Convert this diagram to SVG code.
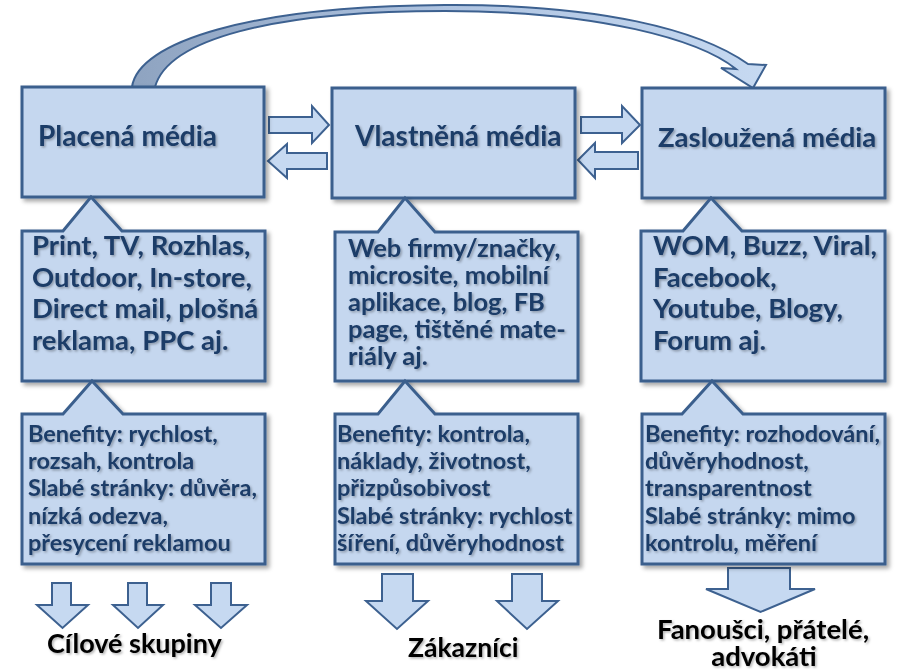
<svg xmlns="http://www.w3.org/2000/svg" width="906" height="671" viewBox="0 0 906 671">
<defs>
<filter id="bsh" x="-10%" y="-10%" width="125%" height="125%">
<feDropShadow dx="3" dy="3" stdDeviation="2" flood-color="#000" flood-opacity="0.35"/>
</filter>
<filter id="tsh" x="-5%" y="-20%" width="115%" height="150%">
<feDropShadow dx="1.5" dy="1.5" stdDeviation="0.8" flood-color="#000" flood-opacity="0.3"/>
</filter>
<linearGradient id="cg" gradientUnits="userSpaceOnUse" x1="130" y1="0" x2="760" y2="0">
<stop offset="0" stop-color="#8ea3c0"/>
<stop offset="0.5" stop-color="#aec3e0"/>
<stop offset="1" stop-color="#c6d9f1"/>
</linearGradient>
</defs>
<style>
.box{fill:#c5d7ef;stroke:#3b5f8d;stroke-width:3;filter:url(#bsh)}
.arr{fill:#c6d9f1;stroke:#3d6190;stroke-width:2;stroke-linejoin:miter}
.t{font-family:Lato,"Open Sans","DejaVu Sans",sans-serif;font-weight:bold;fill:#1d3c68;filter:url(#tsh)}
.title{font-size:28px}
.big{font-size:27.5px}
.mid{font-size:25.5px}
.sm{font-size:23.5px}
.lbl{font-family:Lato,"Open Sans","DejaVu Sans",sans-serif;font-weight:bold;fill:#000;font-size:27px;filter:url(#tsh)}
</style>

<g id="connectors">
<path class="arr" d="M132,87 C138,42 250,6 445,5 C600,4 700,30 748,64 L766,65 L753,88 L721,68 L736,69 C700,40 600,11 445,11 C270,11 168,40 155,87 Z" style="fill:url(#cg)"/>
<path class="arr" d="M269,117 H312 V106 L329,125 L312,143 V133 H269 Z"/>
<path class="arr" d="M327,153 H287 V144 L268,161 L287,178 V169 H327 Z"/>
<path class="arr" d="M581,117 H622 V106 L640,125 L622,143 V133 H581 Z"/>
<path class="arr" d="M638,152 H595 V143 L578,160 L595,178 V169 H638 Z"/>
<path class="arr" d="M52,583 H71 V605 H88 L62.5,628 L37,605 H52 Z"/>
<path class="arr" d="M128,583 H147 V605 H163 L138,628 L113,605 H128 Z"/>
<path class="arr" d="M211,583 H231 V605 H247 L221,628 L195,605 H211 Z"/>
<path class="arr" d="M382,574 H413 V601 H428 L397,629 L366,601 H382 Z"/>
<path class="arr" d="M512,574 H542 V601 H558 L527,629 L497,601 H512 Z"/>
<path class="arr" d="M728,568 H790 V589 H815 L760.5,612 L706,589 H728 Z"/>
</g>

<g id="paid">
<rect class="box" x="22" y="87" width="242" height="110"/>
<text class="t title" x="38" y="146">Placená média</text>
</g>
<g id="owned">
<rect class="box" x="332" y="88" width="243" height="110"/>
<text class="t title" x="355" y="146">Vlastněná média</text>
</g>
<g id="earned">
<rect class="box" x="642" y="88" width="243" height="110"/>
<text class="t title" x="658" y="147" style="font-size:27.5px">Zasloužená média</text>
</g>

<g id="paid-channels">
<path class="box" d="M22,231 H63 L91,197 L122,231 H265 V381 H22 Z"/>
<text class="t big" x="32" y="255">Print, TV, Rozhlas,</text>
<text class="t big" x="32" y="287">Outdoor, In-store,</text>
<text class="t big" x="32" y="318">Direct mail, plošná</text>
<text class="t big" x="32" y="350">reklama, PPC aj.</text>
</g>
<g id="owned-channels">
<path class="box" d="M335,232 H378 L405,198 L435,232 H578 V381 H335 Z"/>
<text class="t mid" x="348" y="257">Web firmy/značky,</text>
<text class="t mid" x="348" y="284">microsite, mobilní</text>
<text class="t mid" x="348" y="311">aplikace, blog, FB</text>
<text class="t mid" x="348" y="338">page, tištěné mate-</text>
<text class="t mid" x="348" y="365">riály aj.</text>
</g>
<g id="earned-channels">
<path class="box" d="M641,231 H683 L711,198 L742,231 H885 V381 H641 Z"/>
<text class="t big" x="653" y="255">WOM, Buzz, Viral,</text>
<text class="t big" x="653" y="287">Facebook,</text>
<text class="t big" x="653" y="318">Youtube, Blogy,</text>
<text class="t big" x="653" y="350">Forum aj.</text>
</g>

<g id="paid-notes">
<path class="box" d="M22,414 H63 L92,381 L123,414 H265 V564 H22 Z"/>
<text class="t sm" x="28" y="442">Benefity: rychlost,</text>
<text class="t sm" x="28" y="469">rozsah, kontrola</text>
<text class="t sm" x="28" y="496">Slabé stránky: důvěra,</text>
<text class="t sm" x="28" y="524">nízká odezva,</text>
<text class="t sm" x="28" y="551">přesycení reklamou</text>
</g>
<g id="owned-notes">
<path class="box" d="M335,414 H378 L405,381 L435,414 H578 V564 H335 Z"/>
<text class="t sm" x="337" y="442">Benefity: kontrola,</text>
<text class="t sm" x="337" y="469">náklady, životnost,</text>
<text class="t sm" x="337" y="496">přizpůsobivost</text>
<text class="t sm" x="337" y="524">Slabé stránky: rychlost</text>
<text class="t sm" x="337" y="551">šíření, důvěryhodnost</text>
</g>
<g id="earned-notes">
<path class="box" d="M642,414 H682 L712,381 L743,414 H885 V564 H642 Z"/>
<text class="t sm" x="645" y="442">Benefity: rozhodování,</text>
<text class="t sm" x="645" y="469">důvěryhodnost,</text>
<text class="t sm" x="645" y="496">transparentnost</text>
<text class="t sm" x="645" y="524">Slabé stránky: mimo</text>
<text class="t sm" x="645" y="551">kontrolu, měření</text>
</g>

<g id="target-groups">
<text class="lbl" x="47" y="653">Cílové skupiny</text>
</g>
<g id="customers">
<text class="lbl" x="408" y="657" style="font-size:26.5px">Zákazníci</text>
</g>
<g id="fans">
<text class="lbl" x="763" y="639" text-anchor="middle" style="font-size:27.5px">Fanoušci, přátelé,</text>
<text class="lbl" x="764" y="666" text-anchor="middle" style="font-size:27.5px">advokáti</text>
</g>
</svg>
